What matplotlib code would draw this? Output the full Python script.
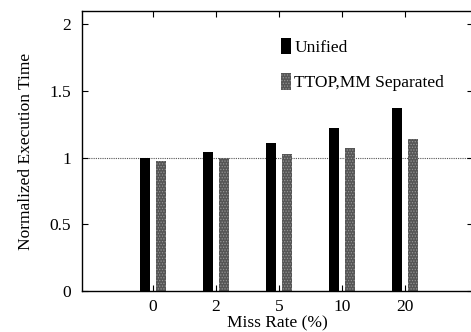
import matplotlib
matplotlib.use("Agg")
import matplotlib.pyplot as plt
import numpy as np

# values
miss_rates = ["0", "2", "5", "10", "20"]
unified = [1.00, 1.045, 1.11, 1.22, 1.375]
separated = [0.975, 1.00, 1.03, 1.07, 1.14]
labels = ["Unified", "TTOP,MM Separated"]

plt.rcParams["font.family"] = ["Liberation Serif", "DejaVu Serif"]
plt.rcParams["hatch.linewidth"] = 0.6

fig = plt.figure(figsize=(4.71, 3.32), dpi=100)
ax = fig.add_axes([82 / 471, 41 / 332, 391 / 471, 280 / 332])

x = np.arange(len(miss_rates))
w = 0.16
ax.bar(x - 0.13, unified, w, color="black", label=labels[0])
ax.bar(x + 0.13, separated, w, color="#555555", hatch="......",
       edgecolor="#959595", linewidth=0, label=labels[1])

# reference line at 1
ax.axhline(1.0, color="#555555", linestyle=(0, (1, 1)), linewidth=0.8, zorder=0)

ax.set_xlim(-1.13, 5.08)
ax.set_ylim(0, 2.1)
ax.set_xticks(x)
ax.set_xticklabels(miss_rates)
ax.set_yticks([0, 0.5, 1, 1.5, 2])
ax.set_yticklabels(["0", "0.5", "1", "1.5", "2"])
ax.tick_params(direction="in", top=True, right=True, length=4, width=0.8,
               labelsize=12.5, pad=8)
ax.tick_params(axis="x", pad=6)
for s in ax.spines.values():
    s.set_linewidth(1.0)

ax.set_xlabel("Miss Rate (%)", fontsize=12.5, labelpad=0)
ax.set_ylabel("Normalized Execution Time", fontsize=12.5, labelpad=11)

ax.legend(loc="upper left", bbox_to_anchor=(0.49, 0.93), frameon=False,
          fontsize=12.5, handlelength=0.6, handleheight=1.1, handletextpad=0.2,
          labelspacing=1.0, borderaxespad=0)

fig.savefig("out.png", dpi=100)
